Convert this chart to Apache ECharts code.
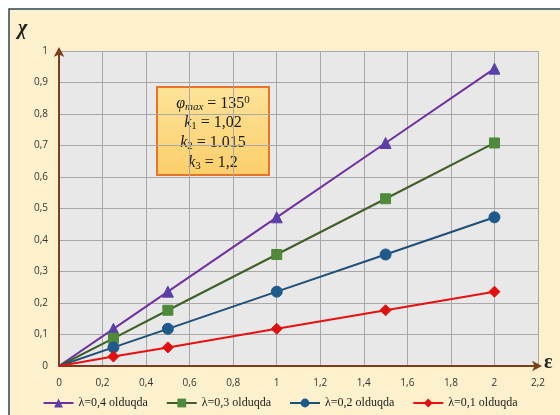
<!DOCTYPE html>
<html><head><meta charset="utf-8">
<script src="https://cdn.jsdelivr.net/npm/echarts@6/dist/echarts.min.js"></script>
<style>html,body{margin:0;padding:0;background:#fff}#c{width:560px;height:415px}</style>
</head><body><div id="c"></div>
<script>
var eps = [0, 0.25, 0.5, 1, 1.5, 2];
var chi04 = [0, 0.118, 0.236, 0.472, 0.708, 0.944];
var chi03 = [0, 0.088, 0.177, 0.354, 0.531, 0.708];
var chi02 = [0, 0.059, 0.118, 0.236, 0.354, 0.472];
var chi01 = [0, 0.030, 0.059, 0.118, 0.177, 0.236];
var seriesNames = ['λ=0,4 olduqda', 'λ=0,3 olduqda', 'λ=0,2 olduqda', 'λ=0,1 olduqda'];

function pts(ys, first) { return eps.map(function (x, i) { return i === 0 ? {value: [x, ys[i]], symbolSize: first} : [x, ys[i]]; }); }
function comma(v) { return String(Math.round(v * 10) / 10).replace('.', ','); }

var chart = echarts.init(document.getElementById('c'));
var serif = 'Liberation Serif';
function mk(name, ys, line, mcol, sym, size, first) {
  return {
    name: name, type: 'line', data: pts(ys, first), symbol: sym, symbolSize: size,
    lineStyle: {color: line, width: 2}, itemStyle: {color: mcol, borderColor: mcol},
    z: 3
  };
}
function rs(size, italic, extra) {
  var o = {fontFamily: serif, fontSize: size, fontStyle: italic ? 'italic' : 'normal', color: '#1a1a1a', fill: '#1a1a1a', lineHeight: 18};
  for (var k in extra) o[k] = extra[k];
  return o;
}
chart.setOption({
  animation: false,
  backgroundColor: '#fff',
  graphic: [
    {type: 'rect', z: -10, shape: {x: 9, y: 9, width: 560, height: 420},
     style: {fill: '#fdf0cc', stroke: '#2f4557', lineWidth: 1.5}},
    {type: 'text', left: 18, top: 19, style: {text: 'χ', fontFamily: serif, fontStyle: 'italic', fontWeight: 'bold', fontSize: 20, fill: '#222'}},
    {type: 'text', left: 544, top: 353, style: {text: 'ε', fontFamily: serif, fontWeight: 'bold', fontSize: 20, fill: '#222'}},
    {type: 'group', left: 156, top: 86, z: 10, children: [
      {type: 'rect', shape: {x: 0, y: 0, width: 112, height: 88},
       style: {fill: {type: 'linear', x: 0, y: 0, x2: 0, y2: 1, colorStops: [{offset: 0, color: '#fde39a'}, {offset: 1, color: '#fbcf6a'}]},
               stroke: '#e8742a', lineWidth: 2}},
      {type: 'text', x: 56, y: 17, style: {align: 'center', verticalAlign: 'middle',
        text: '{i|φ}{s|max}{n| = 135}{p|0}',
        rich: {i: rs(16, true), s: rs(11, true, {padding: [7, 0, 0, 0]}), n: rs(16, false), p: rs(11, false, {padding: [0, 0, 7, 0]})}}},
      {type: 'text', x: 56, y: 36, style: {align: 'center', verticalAlign: 'middle',
        text: '{i|k}{s|1}{n| = 1,02}',
        rich: {i: rs(16, true), s: rs(11, false, {padding: [6, 0, 0, 0]}), n: rs(16, false)}}},
      {type: 'text', x: 56, y: 56, style: {align: 'center', verticalAlign: 'middle',
        text: '{i|k}{s|2}{n| = 1.015}',
        rich: {i: rs(16, true), s: rs(11, false, {padding: [6, 0, 0, 0]}), n: rs(16, false)}}},
      {type: 'text', x: 56, y: 76, style: {align: 'center', verticalAlign: 'middle',
        text: '{i|k}{s|3}{n| = 1,2}',
        rich: {i: rs(16, true), s: rs(11, false, {padding: [6, 0, 0, 0]}), n: rs(16, false)}}}
    ]}
  ],
  legend: {
    bottom: 1, left: 'center', itemGap: 18, itemWidth: 30, itemHeight: 11,
    data: seriesNames,
    textStyle: {fontFamily: serif, fontSize: 12, color: '#222'}
  },
  grid: {left: 59, top: 51, right: 22, bottom: 49, show: true, backgroundColor: '#e8e8e8', borderWidth: 0},
  xAxis: {
    type: 'value', min: 0, max: 2.2, interval: 0.2,
    axisLine: {show: true, onZero: false, lineStyle: {color: '#7b3f1e', width: 2}, symbol: ['none', 'arrow'], symbolSize: [8, 10], symbolOffset: [0, 4]},
    axisTick: {show: false},
    axisLabel: {formatter: comma, color: '#333', fontFamily: 'Open Sans', fontSize: 10, margin: 12},
    splitLine: {show: true, lineStyle: {color: '#a8a8a8', width: 1}}
  },
  yAxis: {
    type: 'value', min: 0, max: 1, interval: 0.1,
    axisLine: {show: true, onZero: false, lineStyle: {color: '#7b3f1e', width: 2}, symbol: ['none', 'arrow'], symbolSize: [8, 10], symbolOffset: [0, 4]},
    axisTick: {show: false},
    axisLabel: {formatter: comma, color: '#333', fontFamily: 'Open Sans', fontSize: 10, margin: 11},
    splitLine: {show: true, lineStyle: {color: '#a8a8a8', width: 1}}
  },
  series: [
    mk(seriesNames[0], chi04, '#7030a0', '#5b3fa8', 'triangle', 11, 0),
    mk(seriesNames[1], chi03, '#3e5f27', '#4e8a3a', 'rect', 10, 0),
    mk(seriesNames[2], chi02, '#1f4e79', '#1f5a8c', 'circle', 11, 0),
    mk(seriesNames[3], chi01, '#e81010', '#e01010', 'diamond', 11, 0)
  ]
});
</script></body></html>
